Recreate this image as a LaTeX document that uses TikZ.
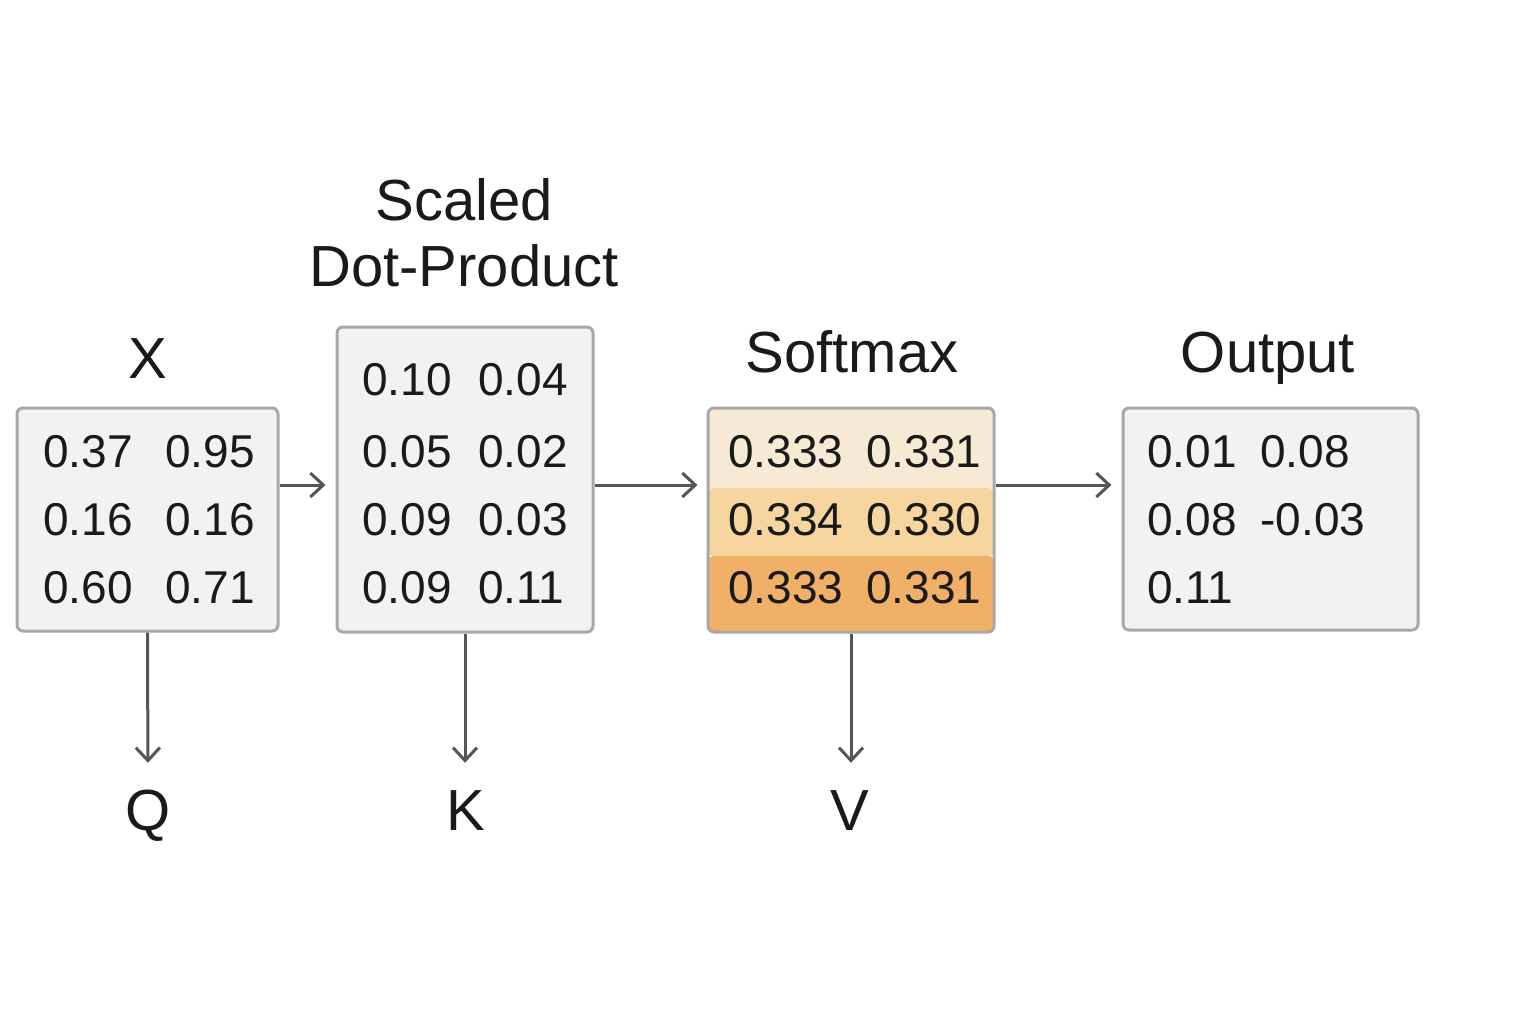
\documentclass[tikz,border=0pt]{standalone}
\usepackage{fontspec}
\setmainfont{Liberation Sans}
\usetikzlibrary{arrows.meta,calc}
\definecolor{boxfill}{HTML}{F2F2F2}
\definecolor{boxline}{HTML}{A8A8A8}
\definecolor{arrowc}{HTML}{555555}
\definecolor{txt}{HTML}{1A1A1A}
\definecolor{smA}{HTML}{F6EAD5}
\definecolor{smB}{HTML}{F6D59F}
\definecolor{smC}{HTML}{F0B068}
\tikzset{
  box/.style={draw=boxline, fill=boxfill, line width=1.5pt, rounded corners=3pt, inner sep=0pt},
  num/.style={anchor=west, inner sep=0pt, text=txt, font=\fontsize{23}{27}\selectfont},
  ttl/.style={inner sep=0pt, text=txt, font=\fontsize{29}{35}\selectfont, text height=20.8pt, text depth=0pt},
  ttlml/.style={inner sep=0pt, text=txt, font=\fontsize{29}{35}\selectfont, align=center},
  arr/.style={draw=arrowc, line width=1.5pt, -{Straight Barb[length=6.5pt,width=12pt,line width=1.5pt]}},
}
\begin{document}
\begin{tikzpicture}[x=0.5pt,y=-0.5pt]
\useasboundingbox (0,0) rectangle (1536,1024);
% boxes
\node[box, minimum width=130.5pt, minimum height=111.5pt] (xb) at (147.5,519.5) {};
\node[box, minimum width=128pt, minimum height=152.5pt] (dp) at (465,479.5) {};
\node[box, minimum width=143pt, minimum height=112pt,
  path picture={
    \fill[smA] (path picture bounding box.north west) rectangle ([yshift=-40pt]path picture bounding box.north east);
    \fill[smB] ([yshift=-40pt]path picture bounding box.north west) rectangle ([yshift=-74pt]path picture bounding box.north east);
    \fill[smC] ([yshift=-74pt]path picture bounding box.north west) rectangle (path picture bounding box.south east);
  }] (sm) at (851,520) {};
\node[box, minimum width=147.5pt, minimum height=111pt] (ob) at (1270.5,519) {};
% titles
\node[ttl] (tx) at (148,358) {X};
\node[ttlml] (tdp) at (464,233) {Scaled\\[-2pt]Dot-Product};
\node[ttl] (tsm) at (852,352) {Softmax};
\node[ttl] (tob) at (1268,352) {Output};
\node[ttl] (q) at (148,810) {Q};
\node[ttl] (k) at (466,810) {K};
\node[ttl] (v) at (850,810) {V};
% X numbers
\node[num] (x11) at (43,452) {0.37};
\node[num] (x12) at (165,452) {0.95};
\node[num] (x21) at (43,520) {0.16};
\node[num] (x22) at (165,520) {0.16};
\node[num] (x31) at (43,588) {0.60};
\node[num] (x32) at (165,588) {0.71};
% DP numbers
\node[num] (d11) at (362,380) {0.10};
\node[num] (d12) at (478,380) {0.04};
\node[num] (d21) at (362,452) {0.05};
\node[num] (d22) at (478,452) {0.02};
\node[num] (d31) at (362,520) {0.09};
\node[num] (d32) at (478,520) {0.03};
\node[num] (d41) at (362,588) {0.09};
\node[num] (d42) at (478,588) {0.11};
% Softmax numbers
\node[num] (s11) at (728,452) {0.333};
\node[num] (s12) at (866,452) {0.331};
\node[num] (s21) at (728,520) {0.334};
\node[num] (s22) at (866,520) {0.330};
\node[num] (s31) at (728,588) {0.333};
\node[num] (s32) at (866,588) {0.331};
% Output numbers
\node[num] (o11) at (1147,452) {0.01};
\node[num] (o12) at (1260,452) {0.08};
\node[num] (o21) at (1147,520) {0.08};
\node[num] (o22) at (1260,520) {-0.03};
\node[num] (o31) at (1147,588) {0.11};
% arrows
\draw[arr, shorten >=5pt] ([yshift=17.25pt]xb.east) -- ([yshift=17.25pt]xb.east -| dp.west);
\draw[arr, shorten >=4.5pt] ([yshift=-2.75pt]dp.east) -- ([yshift=-2.75pt]dp.east -| sm.west);
\draw[arr, shorten >=5pt] ([yshift=17.5pt]sm.east) -- ([yshift=17.5pt]sm.east -| ob.west);
\draw[arr, shorten >=13pt] (xb.south) -- (q.north);
\draw[arr, shorten >=13pt] (dp.south) -- (dp.south |- q.north);
\draw[arr, shorten >=13pt] (sm.south) -- (sm.south |- v.north);
\end{tikzpicture}
\end{document}
